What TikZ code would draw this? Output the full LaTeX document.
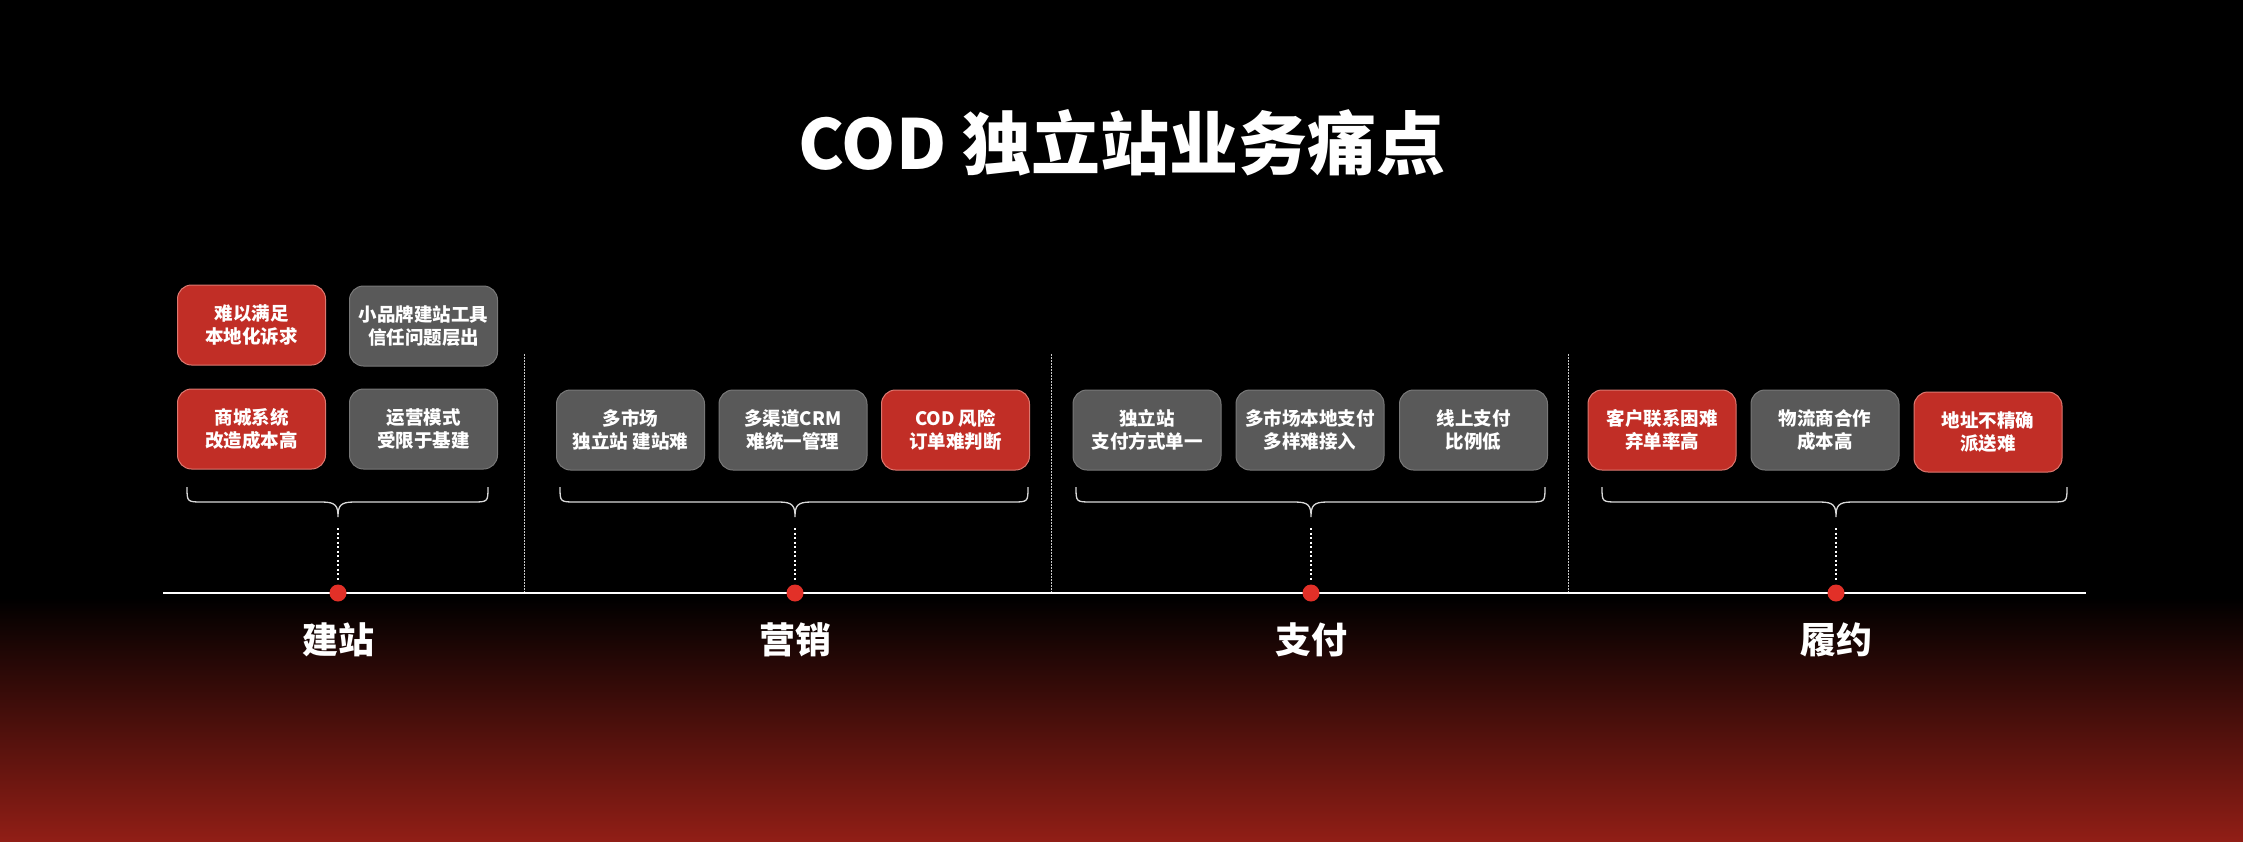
\documentclass[tikz,border=0pt]{standalone}
\usepackage{fontspec}
\setmainfont{Noto Sans CJK SC}
\usetikzlibrary{calc}
\definecolor{boxred}{RGB}{193,46,38}
\definecolor{boxredline}{RGB}{220,120,112}
\definecolor{boxgray}{RGB}{89,89,89}
\definecolor{boxgrayline}{RGB}{120,120,120}
\definecolor{dotred}{RGB}{226,48,40}
\definecolor{gradred}{RGB}{145,30,22}
\definecolor{divgray}{RGB}{200,200,200}
\tikzset{
  pbox/.style={rounded corners=14pt, minimum width=148pt, minimum height=80pt,
    text=white, align=center, inner sep=0pt,
    font=\fontsize{18.5}{23}\selectfont\bfseries, line width=1pt},
  redbox/.style={pbox, fill=boxred, draw=boxredline},
  graybox/.style={pbox, fill=boxgray, draw=boxgrayline},
  tdot/.style={circle, fill=dotred, minimum size=17pt, inner sep=0pt},
  stagelabel/.style={text=white, font=\fontsize{36}{40}\selectfont\bfseries},
  bracepath/.style={draw=white!85!black, line width=1.3pt},
  tipline/.style={draw=white, line width=2pt, dash pattern=on 2pt off 2.5pt},
  divline/.style={draw=divgray, line width=1pt, dash pattern=on 1.5pt off 1.5pt},
}
\newcommand{\mybrace}[4]{% x1, x2, mid, name
  \draw[bracepath] (#1,487) .. controls (#1,502) and (#1,502) .. (#1+16,502)
    -- (#3-16,502) .. controls (#3-2,502) and (#3,506) .. (#3,517)
    .. controls (#3,506) and (#3+2,502) .. (#3+16,502)
    -- (#2-16,502) .. controls (#2,502) and (#2,502) .. (#2,487);
  \coordinate (#4) at (#3,528);
}
\begin{document}
\begin{tikzpicture}[x=1pt,y=-1pt]
\useasboundingbox (0,0) rectangle (2243,841);
\fill[black] (0,0) rectangle (2243,841);
\shade[top color=black, bottom color=gradred] (0,598) rectangle (2243,841);

% title
\node[text=white, font=\fontsize{69}{72}\selectfont\bfseries] (title) at (1122,143) {COD 独立站业务痛点};

% dividers
\coordinate (d1t) at (524,354); \coordinate (d1b) at (524,592);
\coordinate (d2t) at (1051,354); \coordinate (d2b) at (1051,592);
\coordinate (d3t) at (1568,354); \coordinate (d3b) at (1568,592);
\draw[divline] (d1t) -- (d1b);
\draw[divline] (d2t) -- (d2b);
\draw[divline] (d3t) -- (d3b);

% timeline
\coordinate (tl) at (163,593); \coordinate (tr) at (2086,593);
\draw[white, line width=2pt] (tl) -- (tr);

% dots
\node[tdot] (p1) at (338,593) {};
\node[tdot] (p2) at (795,593) {};
\node[tdot] (p3) at (1311,593) {};
\node[tdot] (p4) at (1836,593) {};

% labels
\node[stagelabel] (l1) at (338,640) {建站};
\node[stagelabel] (l2) at (795,640) {营销};
\node[stagelabel] (l3) at (1311,640) {支付};
\node[stagelabel] (l4) at (1836,640) {履约};

% stage 1 boxes
\node[redbox] (a1) at (251.5,325) {难以满足\\本地化诉求};
\node[graybox] (a2) at (423.5,326) {小品牌建站工具\\信任问题层出};
\node[redbox] (a3) at (251.5,429) {商城系统\\改造成本高};
\node[graybox] (a4) at (423.5,429) {运营模式\\受限于基建};

% stage 2 boxes
\node[graybox] (b1) at (630.5,430) {多市场\\独立站 建站难};
\node[graybox] (b2) at (793,430) {多渠道CRM\\难统一管理};
\node[redbox] (b3) at (955.5,430) {COD 风险\\订单难判断};

% stage 3 boxes
\node[graybox] (c1) at (1147,430) {独立站\\支付方式单一};
\node[graybox] (c2) at (1310,430) {多市场本地支付\\多样难接入};
\node[graybox] (c3) at (1473.5,430) {线上支付\\比例低};

% stage 4 boxes
\node[redbox] (e1) at (1662,430) {客户联系困难\\弃单率高};
\node[graybox] (e2) at (1825,430) {物流商合作\\成本高};
\node[redbox] (e3) at (1988,432) {地址不精确\\派送难};

% braces
\mybrace{187}{488}{338}{t1}
\mybrace{560}{1028}{795}{t2}
\mybrace{1076}{1545}{1311}{t3}
\mybrace{1602}{2067}{1836}{t4}

% dotted connectors
\draw[tipline] (t1) -- ($(p1.north)+(0,-4)$);
\draw[tipline] (t2) -- ($(p2.north)+(0,-4)$);
\draw[tipline] (t3) -- ($(p3.north)+(0,-4)$);
\draw[tipline] (t4) -- ($(p4.north)+(0,-4)$);
\end{tikzpicture}
\end{document}
